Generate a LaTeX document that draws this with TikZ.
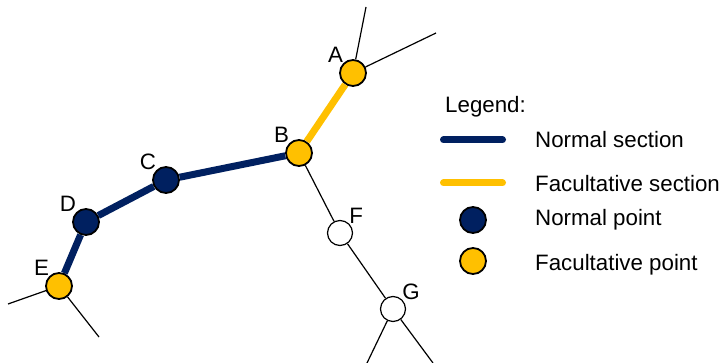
\documentclass[tikz,border=0pt]{standalone}
\usepackage{fontspec}
\setmainfont{Liberation Sans}
\definecolor{navy}{HTML}{002060}
\definecolor{amber}{HTML}{FFC000}
\tikzset{
  txt/.style={inner sep=0pt,font=\fontsize{22.3}{26}\selectfont},
  pt/.style={circle,draw=black,line width=1.8pt,minimum size=26pt,inner sep=0pt,
    label distance=5pt},
  normalpt/.style={pt,fill=navy},
  facultpt/.style={pt,fill=amber},
  plainpt/.style={pt,fill=white,line width=1.2pt,minimum size=25pt},
  nsec/.style={navy,line width=7pt},
  fsec/.style={amber,line width=7pt},
  branch/.style={black,line width=1.2pt},
}

\begin{document}
\begin{tikzpicture}[x=1pt,y=-1pt]
  \useasboundingbox (0,0) rectangle (723,363);

  %% Free ends of the branches
  \coordinate (a1) at (366,7);
  \coordinate (a2) at (436,33);
  \coordinate (e1) at (8,304);
  \coordinate (e2) at (99,337);
  \coordinate (g1) at (367,363);
  \coordinate (g2) at (433,363);

  %% Points
  \node[facultpt,label={[txt]135:A}] (A) at (353,73)  {};
  \node[facultpt,label={[txt]135:B}] (B) at (299,153) {};
  \node[normalpt,label={[txt]135:C}] (C) at (166,180) {};
  \node[normalpt,label={[txt]135:D}] (D) at (86,222)  {};
  \node[facultpt,label={[txt]135:E}] (E) at (59,286)  {};
  \node[plainpt,label={[txt]45:F}]   (F) at (340,233) {};
  \node[plainpt,label={[txt]45:G}]   (G) at (393,309) {};

  %% Sections
  \draw[fsec] (A) -- (B);
  \draw[nsec] (B) -- (C);
  \draw[nsec] (C) -- (D);
  \draw[nsec] (D) -- (E);
  \draw[branch] (A) -- (a1);
  \draw[branch] (A) -- (a2);
  \draw[branch] (B) -- (F);
  \draw[branch] (F) -- (G);
  \draw[branch] (G) -- (g1);
  \draw[branch] (G) -- (g2);
  \draw[branch] (E) -- (e1);
  \draw[branch] (E) -- (e2);

  %% Legend
  \node[txt,anchor=base west] (legend) at (445,112.5) {Legend:};
  \coordinate (ns1) at (443.5,140);
  \coordinate (ns2) at (502.5,140);
  \draw[nsec,line cap=round] (ns1) -- (ns2);
  \node[txt,anchor=base west] (nstxt) at (535,147.3) {Normal section};
  \coordinate (fs1) at (443.5,183);
  \coordinate (fs2) at (502.5,183);
  \draw[fsec,line cap=round] (fs1) -- (fs2);
  \node[txt,anchor=base west] (fstxt) at (535,191.7) {Facultative section};
  \node[normalpt] (np) at (473,220) {};
  \node[txt,anchor=base west] (nptxt) at (535,225.7) {Normal point};
  \node[facultpt] (fp) at (473,261) {};
  \node[txt,anchor=base west] (fptxt) at (535,270.7) {Facultative point};
\end{tikzpicture}
\end{document}
